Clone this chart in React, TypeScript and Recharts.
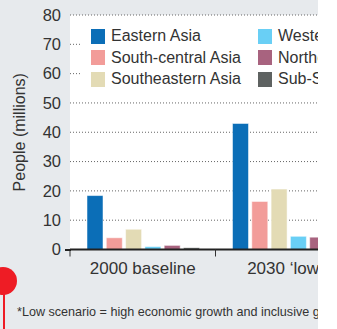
import React from 'react';
import { BarChart, Bar, XAxis, YAxis, CartesianGrid, Legend } from 'recharts';

const categories = ['2000 baseline', '2030 \u2018low\u2019*'];
const easternAsia = [18.4, 43.0];
const southCentralAsia = [4.0, 16.4];
const southeasternAsia = [6.9, 20.6];
const westernAsia = [1.0, 4.5];
const northernAfrica = [1.4, 4.2];
const subSaharanAfrica = [0.6, 1.6];
const yTicks = [0, 10, 20, 30, 40, 50, 60, 70, 80];

const seriesNames = [
  'Eastern Asia',
  'South-central Asia',
  'Southeastern Asia',
  'Western Asia',
  'Northern Africa',
  'Sub-Saharan Africa',
];
const seriesValues = [easternAsia, southCentralAsia, southeasternAsia, westernAsia, northernAfrica, subSaharanAfrica];
const seriesColors = ['#0b6eb7', '#f29c99', '#e3dbb5', '#69cff5', '#a8637f', '#5e6261'];

const data = categories.map((c, i) => {
  const row: Record<string, string | number> = { category: c };
  seriesNames.forEach((s, k) => {
    row[s] = seriesValues[k][i];
  });
  return row;
});

const CHART_W = 361;
const CHART_H = 329;
const Y_W = 70;
const BAND = (CHART_W - Y_W) / categories.length;
const FONT = '"Liberation Sans", Arial, sans-serif';
const TEXT = '#333333';

const XTick = (props: any) => {
  const { x, y, payload } = props;
  const bx = x - BAND / 2;
  return (
    <g>
      <line x1={bx} x2={bx} y1={y} y2={y + 7} stroke="#333" strokeWidth={1} />
      <text x={x} y={y + 24} textAnchor="middle" fill={TEXT} fontSize={17} fontFamily={FONT}>
        {payload.value}
      </text>
    </g>
  );
};

const LegendContent = () => {
  const cols = [seriesNames.slice(0, 3), seriesNames.slice(3)];
  return (
    <div style={{ position: 'relative', width: '100%', height: '100%', background: '#fff' }}>
      {cols.map((col, ci) =>
        col.map((name, ri) => {
          const idx = ci * 3 + ri;
          return (
            <div
              key={name}
              style={{
                position: 'absolute',
                left: ci === 0 ? 10 : 177,
                top: 10 + ri * 21.5,
                display: 'flex',
                alignItems: 'center',
                whiteSpace: 'nowrap',
                fontFamily: FONT,
                fontSize: 16,
                color: TEXT,
                lineHeight: '16px',
              }}
            >
              <span style={{ display: 'inline-block', width: 14, height: 15, background: seriesColors[idx], marginRight: 6 }} />
              <span>{name}</span>
            </div>
          );
        })
      )}
    </div>
  );
};

export default function App() {
  return (
    <div
      style={{
        position: 'absolute',
        left: 0,
        top: 0,
        width: 318,
        height: 329,
        overflow: 'hidden',
        background: '#e7eaed',
      }}
    >
      <BarChart
        width={CHART_W}
        height={CHART_H}
        data={data}
        margin={{ top: 15, right: 0, left: 0, bottom: 0 }}
        barSize={16}
        barGap={3.3}
      >
        <CartesianGrid
          vertical={false}
          fill="#ffffff"
          stroke="#666"
          strokeDasharray="1 2"
          horizontalValues={yTicks.filter((t) => t > 0)}
        />
        <XAxis
          dataKey="category"
          height={79.5}
          axisLine={{ stroke: '#222', strokeWidth: 2 }}
          tickLine={false}
          tickSize={0}
          tickMargin={0}
          interval={0}
          tick={<XTick />}
        />
        <YAxis
          width={Y_W}
          domain={[0, 80]}
          ticks={yTicks}
          axisLine={false}
          tickLine={false}
          tickSize={0}
          tickMargin={9}
          tick={{ fill: TEXT, fontSize: 16.5, fontFamily: FONT }}
          label={{
            value: 'People (millions)',
            angle: -90,
            position: 'insideLeft',
            offset: 19,
            style: { textAnchor: 'middle', fill: TEXT, fontSize: 16, fontFamily: FONT },
          }}
        />
        <Legend
          layout="horizontal"
          verticalAlign="middle"
          align="center"
          content={<LegendContent />}
          wrapperStyle={{ position: 'absolute', left: 81, top: 18, width: 300, height: 76 }}
        />
        {seriesNames.map((s, k) => (
          <Bar
            key={s}
            dataKey={s}
            fill={seriesColors[k]}
            stroke="#ffffff"
            strokeOpacity={0.5}
            strokeWidth={1}
            isAnimationActive={false}
          />
        ))}
      </BarChart>
      <div style={{ position: 'absolute', left: 65, top: 248.5, width: 6, height: 2, background: '#222' }} />
      <div
        style={{
          position: 'absolute',
          left: -11,
          top: 267,
          width: 28,
          height: 28,
          borderRadius: '50%',
          background: '#ee1c25',
        }}
      />
      <div style={{ position: 'absolute', left: 3, top: 290, width: 2, height: 40, background: '#ee1c25' }} />
      <div
        style={{
          position: 'absolute',
          left: 17,
          top: 305,
          whiteSpace: 'nowrap',
          fontFamily: FONT,
          fontSize: 12.6,
          color: TEXT,
        }}
      >
        *Low scenario = high economic growth and inclusive growth
      </div>
    </div>
  );
}
